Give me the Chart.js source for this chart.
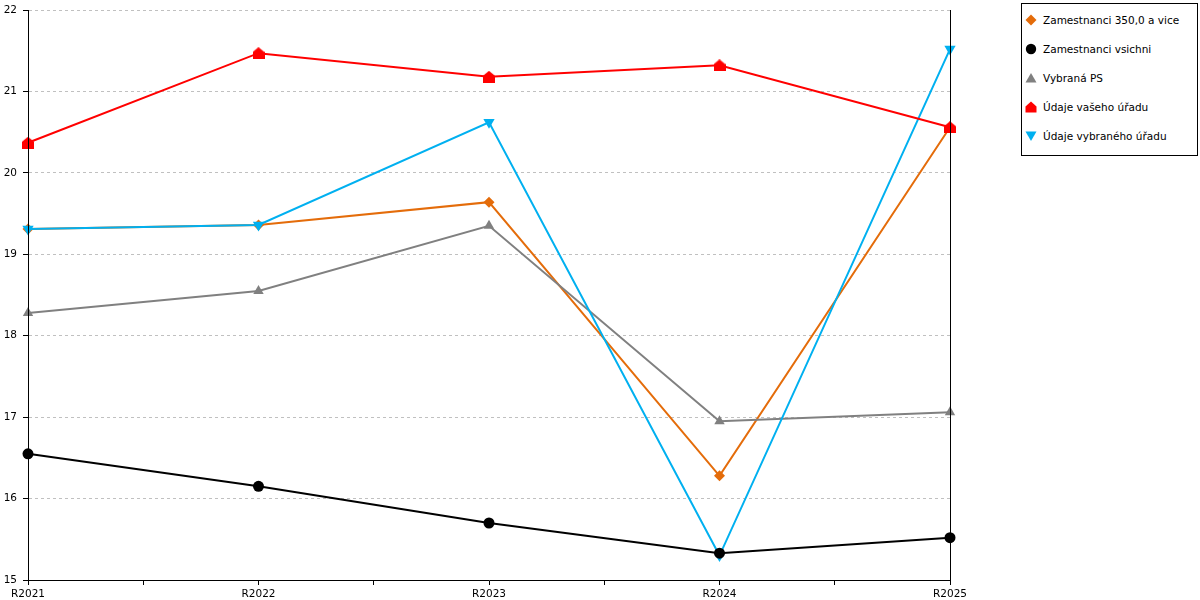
<!DOCTYPE html>
<html><head><meta charset="utf-8">
<script src="https://cdn.jsdelivr.net/npm/chart.js@4.4.1/dist/chart.umd.min.js"></script>
<style>
html,body{margin:0;padding:0;background:#fff;}
#wrap{position:relative;width:1200px;height:600px;}
#c{position:absolute;left:0;top:0;}
#legend{position:absolute;left:1021px;top:3px;width:175px;height:151px;border:1px solid #000;background:#fff;font:10.5px 'DejaVu Sans',sans-serif;color:#000;}
.item{position:absolute;left:0;height:16px;display:flex;align-items:center;white-space:nowrap;}
.item svg{margin-left:3px;margin-right:6px;display:block}
</style></head>
<body>
<div id="wrap"><canvas id="c" width="1200" height="600"></canvas><div id="legend"></div></div>
<script>
const categories = ['R2021','R2022','R2023','R2024','R2025'];
const seriesNames = ['Zamestnanci 350,0 a vice','Zamestnanci vsichni','Vybraná PS','Údaje vašeho úřadu','Údaje vybraného úřadu'];
const zam350 = [19.31, 19.36, 19.64, 16.28, 20.56];
const zamVsichni = [16.55, 16.15, 15.70, 15.33, 15.52];
const vybranaPS = [18.28, 18.55, 19.35, 16.95, 17.06];
const vasUrad = [20.37, 21.47, 21.18, 21.32, 20.56];
const vybranyUrad = [19.31, 19.36, 20.62, 15.30, 21.52];
const yMin = 15, yMax = 22, yStep = 1;

const colors = ['#E46C0A', '#000000', '#808080', '#FF0000', '#00B0F0'];

// house-shaped point style
const house = document.createElement('canvas');
house.width = 12; house.height = 12;
(function(){
  const g = house.getContext('2d');
  g.fillStyle = '#FF0000';
  g.beginPath();
  g.moveTo(0,12); g.lineTo(0,5); g.lineTo(6,0); g.lineTo(12,5); g.lineTo(12,12);
  g.closePath(); g.fill();
})();

const seriesValues = [zam350, zamVsichni, vybranaPS, vasUrad, vybranyUrad];
const pointStyles = ['rectRot', 'circle', 'triangle', house, 'triangle'];
const rotations = [0, 0, 0, 0, 180];
const radii = [5.5, 5.5, 6, 6, 6.5];
const orders = [4, 1, 3, 0, 2];

const datasets = seriesValues.map((vals, i) => ({
  label: seriesNames[i],
  data: vals.map((v, j) => ({x: j, y: v})),
  borderColor: colors[i],
  backgroundColor: colors[i],
  borderWidth: 2,
  pointStyle: pointStyles[i],
  pointRotation: rotations[i],
  pointRadius: radii[i],
  pointHoverRadius: radii[i],
  pointBorderWidth: 0,
  pointBackgroundColor: colors[i],
  tension: 0,
  clip: false,
  order: orders[i]
}));

const edgeLines = {
  id: 'edgeLines',
  afterDatasetsDraw(chart) {
    const {ctx, chartArea: a} = chart;
    ctx.save();
    ctx.strokeStyle = '#000';
    ctx.lineWidth = 1;
    ctx.beginPath();
    const r = Math.round(a.right) + 0.5, l = Math.round(a.left) + 0.5;
    ctx.moveTo(r, a.top); ctx.lineTo(r, a.bottom);
    ctx.moveTo(l, a.top); ctx.lineTo(l, a.bottom);
    ctx.stroke();
    ctx.restore();
  }
};

Chart.defaults.font.family = "'DejaVu Sans', sans-serif";
Chart.defaults.font.size = 10.5;
Chart.defaults.color = '#000';

new Chart(document.getElementById('c'), {
  type: 'line',
  data: { datasets },
  options: {
    responsive: false,
    animation: false,
    events: [],
    layout: { padding: { top: 10, right: 250, left: 0, bottom: 0 } },
    plugins: { legend: { display: false }, tooltip: { enabled: false } },
    scales: {
      x: {
        type: 'linear',
        min: 0, max: categories.length - 1,
        afterFit(s) { s.height = 20; },
        ticks: {
          stepSize: 0.5, autoSkip: false, maxRotation: 0, padding: 3,
          callback: v => Number.isInteger(v) ? categories[v] : ''
        },
        grid: { drawOnChartArea: false, drawTicks: true, tickLength: 5, color: '#000', tickColor: '#000' },
        border: { display: true, color: '#000', width: 1 }
      },
      y: {
        min: yMin, max: yMax,
        afterFit(s) { s.width = 28; },
        ticks: { stepSize: yStep, padding: 6, font: { lineHeight: 0.5 } },
        grid: {
          color: c => (c.tick && c.tick.value === yMin) ? 'rgba(0,0,0,0)' : '#c0c0c0',
          tickColor: '#000', tickLength: 5, tickBorderDash: []
        },
        border: { display: true, color: '#000', width: 1, dash: [3, 3] }
      }
    }
  },
  plugins: [edgeLines]
});

// HTML legend
const svgs = [
  '<polygon points="6,0.5 11.5,6 6,11.5 0.5,6" fill="#E46C0A"/>',
  '<circle cx="6" cy="6" r="5.2" fill="#000"/>',
  '<polygon points="6,1 11.5,10.5 0.5,10.5" fill="#808080"/>',
  '<polygon points="0.5,11.5 0.5,5.5 6,0.5 11.5,5.5 11.5,11.5" fill="#FF0000"/>',
  '<polygon points="0.5,1.5 11.5,1.5 6,11" fill="#00B0F0"/>'
];
const leg = document.getElementById('legend');
seriesNames.forEach((n, i) => {
  const d = document.createElement('div');
  d.className = 'item';
  d.style.top = (8 + i * 29) + 'px';
  d.innerHTML = '<svg width="12" height="12" viewBox="0 0 12 12">' + svgs[i] + '</svg><span>' + n + '</span>';
  leg.appendChild(d);
});
</script>
</body></html>
